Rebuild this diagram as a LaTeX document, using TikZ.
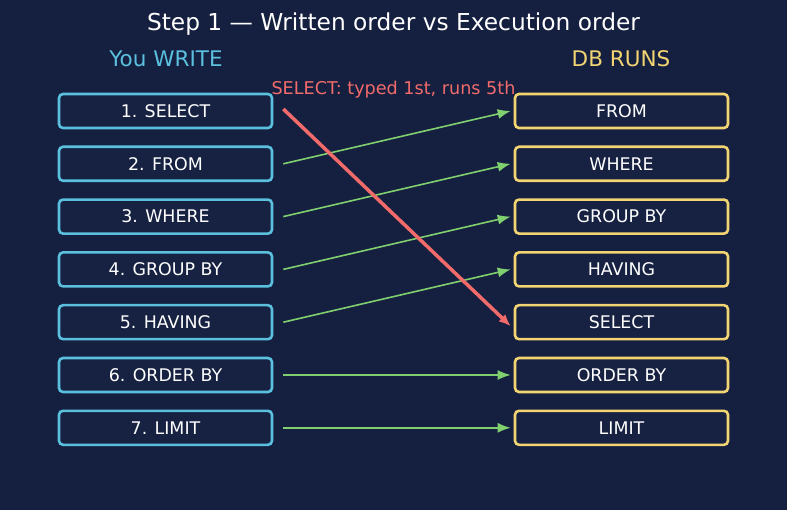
\documentclass[tikz,border=0pt]{standalone}
\usepackage{fontspec}
\setmainfont{DejaVu Sans}
\usetikzlibrary{arrows.meta}
\definecolor{bg}{HTML}{152040}
\definecolor{boxfill}{HTML}{172242}
\definecolor{cy}{HTML}{5BC0DE}
\definecolor{yl}{HTML}{F2D472}
\definecolor{gr}{HTML}{80D070}
\definecolor{rd}{HTML}{F26B6B}
\tikzset{
  wbox/.style={draw=cy, fill=boxfill, line width=2.6pt, rounded corners=4pt, minimum width=213pt, minimum height=34pt, inner sep=0pt, text=white, font=\fontsize{17.4}{20}\selectfont},
  rbox/.style={wbox, draw=yl},
  garrow/.style={draw=gr, line width=1.6pt, -{Latex[length=13pt,width=10pt]}},
  rarrow/.style={draw=rd, line width=3.5pt, -{Latex[length=12pt,width=10pt]}}
}
\begin{document}
\begin{tikzpicture}[x=1pt,y=-1pt]
\fill[bg] (0,0) rectangle (787,510);
\useasboundingbox (0,0) rectangle (787,510);
\node[text=white, font=\fontsize{23.3}{26}\selectfont] (title) at (393.5,24) {Step 1 — Written order vs Execution order};
\node[text=cy, font=\fontsize{21.5}{24}\selectfont] (hw) at (166,59) {You WRITE};
\node[text=yl, font=\fontsize{21.5}{24}\selectfont] (hr) at (621,59) {DB RUNS};
\foreach \i/\t in {1/1. SELECT,2/2. FROM,3/3. WHERE,4/4. GROUP BY,5/5. HAVING,6/6. ORDER BY,7/7. LIMIT}{
  \node[wbox] (w\i) at (165.5,{111+52.8*(\i-1)}) {\t};
}
\foreach \i/\t in {1/FROM,2/WHERE,3/GROUP BY,4/HAVING,5/SELECT,6/ORDER BY,7/LIMIT}{
  \node[rbox] (r\i) at (621.5,{111+52.8*(\i-1)}) {\t};
}
\foreach \a/\b in {2/1,3/2,4/3,5/4,6/6,7/7}{
  \draw[garrow] ([xshift=10pt]w\a.east) -- ([xshift=-3pt]r\b.west);
}
\draw[rarrow] ([xshift=10pt,yshift=2pt]w1.east) -- ([xshift=-3pt,yshift=-4pt]r5.west);
\node[text=rd, font=\fontsize{17.6}{20}\selectfont] (lbl) at (393.5,90) {SELECT: typed 1st, runs 5th};
\end{tikzpicture}
\end{document}
